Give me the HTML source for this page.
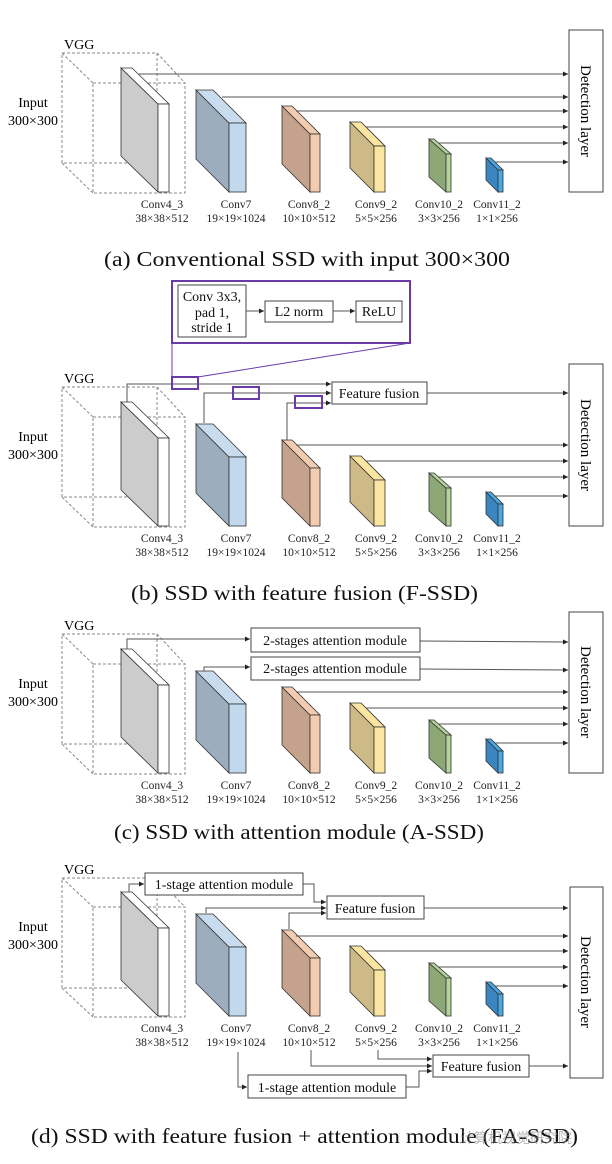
<!DOCTYPE html>
<html><head><meta charset="utf-8"><style>
html,body{margin:0;padding:0;background:#fff;}
svg{display:block;font-family:"Liberation Serif","Noto Serif CJK SC",serif;}
.l{stroke:#555;stroke-width:1;fill:none;}
.b{fill:#fff;stroke:#444;stroke-width:1;}
.pb{fill:none;stroke:#6a3aa8;stroke-width:2;}
.s{stroke:#333;stroke-width:0.8;}
.lab{font-size:11.5px;text-anchor:middle;fill:#222;}
.cap{font-size:21px;fill:#111;}
.box{font-size:14px;fill:#111;}
</style></head><body>
<svg width="612" height="1164" viewBox="0 0 612 1164" xmlns="http://www.w3.org/2000/svg">
<defs>
<marker id="a" viewBox="0 0 10 10" refX="10" refY="5" markerWidth="5" markerHeight="5" orient="auto"><path d="M0,0L10,5L0,10z" fill="#222"/></marker>
</defs>

<!-- ===== Panel (a) ===== -->
<g>
<text x="64" y="49" font-size="14">VGG</text>
<g stroke="#888" stroke-dasharray="3,2" fill="none" stroke-width="1">
<rect x="62" y="53" width="95" height="110"/><rect x="93" y="83" width="92" height="110"/>
<line x1="62" y1="53" x2="93" y2="83"/><line x1="157" y1="53" x2="185" y2="83"/><line x1="62" y1="163" x2="93" y2="193"/>
</g>
<text x="33" y="107" font-size="14" text-anchor="middle">Input</text>
<text x="33" y="125" font-size="14" text-anchor="middle">300×300</text>
<g class="s">
<polygon points="121,68 158,104 158,192 121,156" fill="#cccccc"/><polygon points="121,68 132,68 169,104 158,104" fill="#fff"/><rect x="158" y="104" width="11" height="88" fill="#fff"/>
<polygon points="196,90 229,123 229,192 196,159" fill="#9caebe"/><polygon points="196,90 213,90 246,123 229,123" fill="#c9dcee"/><rect x="229" y="123" width="17" height="69" fill="#c2d8ec"/>
<polygon points="282,106 310,134 310,192 282,164" fill="#c4a28b"/><polygon points="282,106 292,106 320,134 310,134" fill="#f2cbb0"/><rect x="310" y="134" width="10" height="58" fill="#f2cbb0"/>
<polygon points="350,122 374,146 374,192 350,168" fill="#cdba86"/><polygon points="350,122 361,122 385,146 374,146" fill="#fbe5a0"/><rect x="374" y="146" width="11" height="46" fill="#fbe5a0"/>
<polygon points="429,139 446,154 446,192 429,177" fill="#8ea777"/><polygon points="429,139 434,139 451,154 446,154" fill="#b6d39c"/><rect x="446" y="154" width="5" height="38" fill="#b6d39c"/>
<polygon points="486,158 498,170 498,192 486,180" fill="#3b86bf"/><polygon points="486,158 491,158 503,170 498,170" fill="#4aa7e3"/><rect x="498" y="170" width="5" height="22" fill="#4aa7e3"/>
</g>
<text class="lab" x="162" y="208">Conv4_3</text><text class="lab" x="162" y="222">38×38×512</text>
<text class="lab" x="236" y="208">Conv7</text><text class="lab" x="236" y="222">19×19×1024</text>
<text class="lab" x="309" y="208">Conv8_2</text><text class="lab" x="309" y="222">10×10×512</text>
<text class="lab" x="376" y="208">Conv9_2</text><text class="lab" x="376" y="222">5×5×256</text>
<text class="lab" x="439" y="208">Conv10_2</text><text class="lab" x="439" y="222">3×3×256</text>
<text class="lab" x="497" y="208">Conv11_2</text><text class="lab" x="497" y="222">1×1×256</text>
<g class="l" marker-end="url(#a)">
<line x1="139" y1="74" x2="568" y2="74"/><line x1="222" y1="97" x2="568" y2="97"/><line x1="296" y1="111" x2="568" y2="111"/>
<line x1="366" y1="127" x2="568" y2="127"/><line x1="438" y1="143" x2="568" y2="143"/><line x1="495" y1="162" x2="568" y2="162"/>
</g>
<rect class="b" x="569" y="30" width="34" height="162"/>
<text x="0" y="0" font-size="15" text-anchor="middle" transform="translate(581,111) rotate(90)">Detection layer</text>
<text class="cap" x="104" y="266" textLength="406" lengthAdjust="spacingAndGlyphs">(a) Conventional SSD with input 300×300</text>
</g>

<!-- ===== Panel (b) ===== -->
<g transform="translate(0,334)">
<text x="64" y="49" font-size="14">VGG</text>
<g stroke="#888" stroke-dasharray="3,2" fill="none" stroke-width="1">
<rect x="62" y="53" width="95" height="110"/><rect x="93" y="83" width="92" height="110"/>
<line x1="62" y1="53" x2="93" y2="83"/><line x1="157" y1="53" x2="185" y2="83"/><line x1="62" y1="163" x2="93" y2="193"/>
</g>
<text x="33" y="107" font-size="14" text-anchor="middle">Input</text>
<text x="33" y="125" font-size="14" text-anchor="middle">300×300</text>
<g class="s">
<polygon points="121,68 158,104 158,192 121,156" fill="#cccccc"/><polygon points="121,68 132,68 169,104 158,104" fill="#fff"/><rect x="158" y="104" width="11" height="88" fill="#fff"/>
<polygon points="196,90 229,123 229,192 196,159" fill="#9caebe"/><polygon points="196,90 213,90 246,123 229,123" fill="#c9dcee"/><rect x="229" y="123" width="17" height="69" fill="#c2d8ec"/>
<polygon points="282,106 310,134 310,192 282,164" fill="#c4a28b"/><polygon points="282,106 292,106 320,134 310,134" fill="#f2cbb0"/><rect x="310" y="134" width="10" height="58" fill="#f2cbb0"/>
<polygon points="350,122 374,146 374,192 350,168" fill="#cdba86"/><polygon points="350,122 361,122 385,146 374,146" fill="#fbe5a0"/><rect x="374" y="146" width="11" height="46" fill="#fbe5a0"/>
<polygon points="429,139 446,154 446,192 429,177" fill="#8ea777"/><polygon points="429,139 434,139 451,154 446,154" fill="#b6d39c"/><rect x="446" y="154" width="5" height="38" fill="#b6d39c"/>
<polygon points="486,158 498,170 498,192 486,180" fill="#3b86bf"/><polygon points="486,158 491,158 503,170 498,170" fill="#4aa7e3"/><rect x="498" y="170" width="5" height="22" fill="#4aa7e3"/>
</g>
<text class="lab" x="162" y="208">Conv4_3</text><text class="lab" x="162" y="222">38×38×512</text>
<text class="lab" x="236" y="208">Conv7</text><text class="lab" x="236" y="222">19×19×1024</text>
<text class="lab" x="309" y="208">Conv8_2</text><text class="lab" x="309" y="222">10×10×512</text>
<text class="lab" x="376" y="208">Conv9_2</text><text class="lab" x="376" y="222">5×5×256</text>
<text class="lab" x="439" y="208">Conv10_2</text><text class="lab" x="439" y="222">3×3×256</text>
<text class="lab" x="497" y="208">Conv11_2</text><text class="lab" x="497" y="222">1×1×256</text>
<g class="l" marker-end="url(#a)">
<line x1="296" y1="111" x2="568" y2="111"/><line x1="366" y1="127" x2="568" y2="127"/><line x1="438" y1="143" x2="568" y2="143"/><line x1="495" y1="162" x2="568" y2="162"/>
</g>
<rect class="b" x="569" y="30" width="34" height="162"/>
<text x="0" y="0" font-size="15" text-anchor="middle" transform="translate(581,111) rotate(90)">Detection layer</text>
</g>
<!-- b extras -->
<rect class="pb" x="172" y="281" width="238" height="62"/>
<rect class="b" x="178" y="285" width="68" height="52"/>
<text class="box" font-size="13" x="212" y="301" text-anchor="middle">Conv 3x3,</text>
<text class="box" font-size="13" x="212" y="317" text-anchor="middle">pad 1,</text>
<text class="box" font-size="13" x="212" y="332" text-anchor="middle">stride 1</text>
<rect class="b" x="265" y="301" width="68" height="21"/><text class="box" font-size="13" x="299" y="316" text-anchor="middle">L2 norm</text>
<rect class="b" x="356" y="301" width="46" height="21"/><text class="box" font-size="13" x="379" y="316" text-anchor="middle">ReLU</text>
<g class="l" marker-end="url(#a)"><line x1="246" y1="311" x2="264" y2="311"/><line x1="333" y1="311" x2="355" y2="311"/></g>
<line x1="172" y1="343" x2="172" y2="377" stroke="#6a3aa8" stroke-width="1"/>
<line x1="410" y1="343" x2="198" y2="377" stroke="#6a3aa8" stroke-width="1"/>
<g class="l" marker-end="url(#a)">
<polyline points="127,402 127,384 331,384"/>
<polyline points="204,423 204,393 331,393"/>
<polyline points="287,440 287,403 331,403"/>
<line x1="427" y1="393" x2="568" y2="393"/>
</g>
<rect class="pb" x="172" y="377" width="26" height="12" fill="#fff"/>
<rect class="pb" x="233" y="387" width="26" height="12" fill="#fff"/>
<rect class="pb" x="295" y="396" width="27" height="12" fill="#fff"/>
<rect class="b" x="332" y="382" width="95" height="22"/><text class="box" x="379" y="398" text-anchor="middle">Feature fusion</text>
<text class="cap" x="131" y="600" textLength="347" lengthAdjust="spacingAndGlyphs">(b) SSD with feature fusion (F-SSD)</text>

<!-- ===== Panel (c) ===== -->
<g transform="translate(0,581)">
<text x="64" y="49" font-size="14">VGG</text>
<g stroke="#888" stroke-dasharray="3,2" fill="none" stroke-width="1">
<rect x="62" y="53" width="95" height="110"/><rect x="93" y="83" width="92" height="110"/>
<line x1="62" y1="53" x2="93" y2="83"/><line x1="157" y1="53" x2="185" y2="83"/><line x1="62" y1="163" x2="93" y2="193"/>
</g>
<text x="33" y="107" font-size="14" text-anchor="middle">Input</text>
<text x="33" y="125" font-size="14" text-anchor="middle">300×300</text>
<g class="s">
<polygon points="121,68 158,104 158,192 121,156" fill="#cccccc"/><polygon points="121,68 132,68 169,104 158,104" fill="#fff"/><rect x="158" y="104" width="11" height="88" fill="#fff"/>
<polygon points="196,90 229,123 229,192 196,159" fill="#9caebe"/><polygon points="196,90 213,90 246,123 229,123" fill="#c9dcee"/><rect x="229" y="123" width="17" height="69" fill="#c2d8ec"/>
<polygon points="282,106 310,134 310,192 282,164" fill="#c4a28b"/><polygon points="282,106 292,106 320,134 310,134" fill="#f2cbb0"/><rect x="310" y="134" width="10" height="58" fill="#f2cbb0"/>
<polygon points="350,122 374,146 374,192 350,168" fill="#cdba86"/><polygon points="350,122 361,122 385,146 374,146" fill="#fbe5a0"/><rect x="374" y="146" width="11" height="46" fill="#fbe5a0"/>
<polygon points="429,139 446,154 446,192 429,177" fill="#8ea777"/><polygon points="429,139 434,139 451,154 446,154" fill="#b6d39c"/><rect x="446" y="154" width="5" height="38" fill="#b6d39c"/>
<polygon points="486,158 498,170 498,192 486,180" fill="#3b86bf"/><polygon points="486,158 491,158 503,170 498,170" fill="#4aa7e3"/><rect x="498" y="170" width="5" height="22" fill="#4aa7e3"/>
</g>
<text class="lab" x="162" y="208">Conv4_3</text><text class="lab" x="162" y="222">38×38×512</text>
<text class="lab" x="236" y="208">Conv7</text><text class="lab" x="236" y="222">19×19×1024</text>
<text class="lab" x="309" y="208">Conv8_2</text><text class="lab" x="309" y="222">10×10×512</text>
<text class="lab" x="376" y="208">Conv9_2</text><text class="lab" x="376" y="222">5×5×256</text>
<text class="lab" x="439" y="208">Conv10_2</text><text class="lab" x="439" y="222">3×3×256</text>
<text class="lab" x="497" y="208">Conv11_2</text><text class="lab" x="497" y="222">1×1×256</text>
<g class="l" marker-end="url(#a)">
<line x1="296" y1="111" x2="568" y2="111"/><line x1="366" y1="127" x2="568" y2="127"/><line x1="438" y1="143" x2="568" y2="143"/><line x1="495" y1="162" x2="568" y2="162"/>
</g>
<rect class="b" x="569" y="31" width="34" height="161"/>
<text x="0" y="0" font-size="15" text-anchor="middle" transform="translate(581,111) rotate(90)">Detection layer</text>
</g>
<!-- c extras -->
<g class="l" marker-end="url(#a)">
<polyline points="127,649 127,639 250,639"/>
<polyline points="204,671 204,667 250,667"/>
<line x1="420" y1="641" x2="568" y2="642"/>
<line x1="420" y1="669" x2="568" y2="670"/>
</g>
<rect class="b" x="251" y="628" width="169" height="24"/><text class="box" x="335" y="645" text-anchor="middle">2-stages attention module</text>
<rect class="b" x="251" y="657" width="169" height="23"/><text class="box" x="335" y="673" text-anchor="middle">2-stages attention module</text>
<text class="cap" x="114" y="839" textLength="370" lengthAdjust="spacingAndGlyphs">(c) SSD with attention module (A-SSD)</text>

<!-- ===== Panel (d) ===== -->
<g transform="translate(0,824)">
<text x="64" y="50" font-size="14">VGG</text>
<g stroke="#888" stroke-dasharray="3,2" fill="none" stroke-width="1">
<rect x="62" y="54" width="95" height="110"/><rect x="93" y="83" width="92" height="110"/>
<line x1="62" y1="54" x2="93" y2="83"/><line x1="157" y1="54" x2="185" y2="83"/><line x1="62" y1="164" x2="93" y2="193"/>
</g>
<text x="33" y="107" font-size="14" text-anchor="middle">Input</text>
<text x="33" y="125" font-size="14" text-anchor="middle">300×300</text>
<g class="s">
<polygon points="121,68 158,104 158,192 121,156" fill="#cccccc"/><polygon points="121,68 132,68 169,104 158,104" fill="#fff"/><rect x="158" y="104" width="11" height="88" fill="#fff"/>
<polygon points="196,90 229,123 229,192 196,159" fill="#9caebe"/><polygon points="196,90 213,90 246,123 229,123" fill="#c9dcee"/><rect x="229" y="123" width="17" height="69" fill="#c2d8ec"/>
<polygon points="282,106 310,134 310,192 282,164" fill="#c4a28b"/><polygon points="282,106 292,106 320,134 310,134" fill="#f2cbb0"/><rect x="310" y="134" width="10" height="58" fill="#f2cbb0"/>
<polygon points="350,122 374,146 374,192 350,168" fill="#cdba86"/><polygon points="350,122 361,122 385,146 374,146" fill="#fbe5a0"/><rect x="374" y="146" width="11" height="46" fill="#fbe5a0"/>
<polygon points="429,139 446,154 446,192 429,177" fill="#8ea777"/><polygon points="429,139 434,139 451,154 446,154" fill="#b6d39c"/><rect x="446" y="154" width="5" height="38" fill="#b6d39c"/>
<polygon points="486,158 498,170 498,192 486,180" fill="#3b86bf"/><polygon points="486,158 491,158 503,170 498,170" fill="#4aa7e3"/><rect x="498" y="170" width="5" height="22" fill="#4aa7e3"/>
</g>
<text class="lab" x="162" y="208">Conv4_3</text><text class="lab" x="162" y="222">38×38×512</text>
<text class="lab" x="236" y="208">Conv7</text><text class="lab" x="236" y="222">19×19×1024</text>
<text class="lab" x="309" y="208">Conv8_2</text><text class="lab" x="309" y="222">10×10×512</text>
<text class="lab" x="376" y="208">Conv9_2</text><text class="lab" x="376" y="222">5×5×256</text>
<text class="lab" x="439" y="208">Conv10_2</text><text class="lab" x="439" y="222">3×3×256</text>
<text class="lab" x="497" y="208">Conv11_2</text><text class="lab" x="497" y="222">1×1×256</text>
<g class="l" marker-end="url(#a)">
<line x1="296" y1="112" x2="568" y2="112"/><line x1="366" y1="127" x2="568" y2="127"/><line x1="438" y1="143" x2="568" y2="143"/><line x1="495" y1="162" x2="568" y2="162"/>
</g>
</g>
<!-- d extras -->
<rect class="b" x="570" y="887" width="33" height="191"/>
<text x="0" y="0" font-size="15" text-anchor="middle" transform="translate(581,982) rotate(90)">Detection layer</text>
<g class="l" marker-end="url(#a)">
<polyline points="129,892 129,884 144,884"/>
<polyline points="303,884 314,884 314,902 326,902"/>
<polyline points="206,913 206,908 326,908"/>
<polyline points="289,929 289,913 326,913"/>
<line x1="424" y1="908" x2="568" y2="908"/>
<polyline points="378,1050 378,1059 432,1059"/>
<polyline points="311,1050 311,1066 432,1066"/>
<polyline points="238,1052 238,1087 247,1087"/>
<polyline points="406,1087 419,1087 419,1071 432,1071"/>
<line x1="529" y1="1066" x2="568" y2="1066"/>
</g>
<rect class="b" x="145" y="873" width="158" height="22"/><text class="box" x="224" y="889" text-anchor="middle">1-stage attention module</text>
<rect class="b" x="327" y="896" width="97" height="23"/><text class="box" x="375" y="913" text-anchor="middle">Feature fusion</text>
<rect class="b" x="433" y="1055" width="96" height="22"/><text class="box" x="481" y="1071" text-anchor="middle">Feature fusion</text>
<rect class="b" x="248" y="1075" width="158" height="23"/><text class="box" x="327" y="1092" text-anchor="middle">1-stage attention module</text>
<text class="cap" x="31" y="1143" textLength="547" lengthAdjust="spacingAndGlyphs">(d) SSD with feature fusion + attention module (FA-SSD)</text>
<text x="460" y="1143" font-size="14" fill="#888" fill-opacity="0.6" font-family="'Noto Sans CJK SC',sans-serif">计算机视觉研究院</text>
</svg>
</body></html>
